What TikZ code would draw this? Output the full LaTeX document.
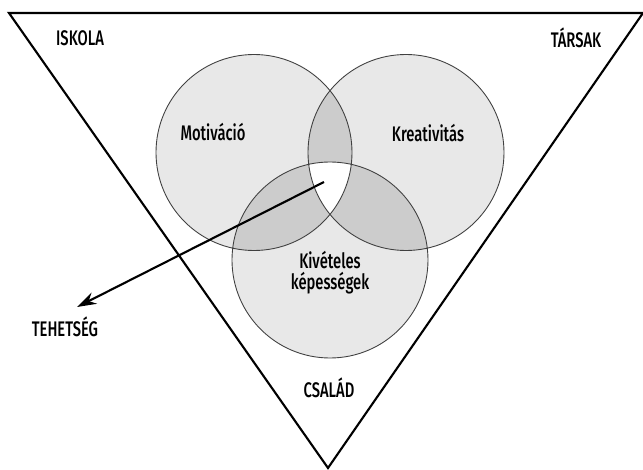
\documentclass[tikz,border=0pt]{standalone}
\usepackage{fontspec}
\setmainfont{Fira Sans Medium}[FakeStretch=0.7]
\usetikzlibrary{arrows.meta}
\definecolor{setgray}{gray}{0.91}
\definecolor{pairgray}{gray}{0.80}
\tikzset{
  label/.style={inner sep=1pt, font=\fontsize{12}{13}\selectfont},
  ring/.style={draw=black!75, line width=0.5pt}
}
\begin{document}
\begin{tikzpicture}
            \useasboundingbox (0,0) rectangle (12.86,9.4);
            \def\rr{1.96}
            \coordinate (mot) at (5.08,6.35);
            \coordinate (kre) at (8.12,6.35);
            \coordinate (kiv) at (6.60,4.20);
            \draw[line width=1.2pt] (0.18,9.14) -- (12.86,9.14) -- (6.56,0.04) -- cycle; % triangle
            \fill[setgray] (mot) circle (\rr) (kre) circle (\rr) (kiv) circle (\rr);
            \begin{scope} \clip (mot) circle (\rr); \fill[pairgray] (kre) circle (\rr) (kiv) circle (\rr); \end{scope}
            \begin{scope} \clip (kre) circle (\rr); \fill[pairgray] (kiv) circle (\rr); \end{scope}
            \begin{scope} \clip (mot) circle (\rr); \clip (kre) circle (\rr); \fill[white] (kiv) circle (\rr); \end{scope}
            \draw[ring] (mot) circle (\rr) (kre) circle (\rr) (kiv) circle (\rr);
            \node[label] (iskola) at (1.6,8.64) {ISKOLA};
            \node[label] (tarsak) at (11.52,8.64) {TÁRSAK};
            \node[label] (motivacio) at (4.26,6.76) {Motiváció};
            \node[label] (kreativitas) at (8.56,6.74) {Kreativitás};
            \node[label, align=center] (kepesseg) at (6.6,3.94) {Kivételes\\[-1pt]képességek};
            \node[label] (csalad) at (6.58,1.64) {CSALÁD};
            \node[label] (tehetseg) at (1.3,2.86) {TEHETSÉG};
            \coordinate (core) at (6.48,5.76);
            \coordinate (tip) at (1.54,3.26);
            \draw[line width=1.2pt, -{Stealth[length=11pt,width=7pt]}] (core) -- (tip);
        \end{tikzpicture}
\end{document}
